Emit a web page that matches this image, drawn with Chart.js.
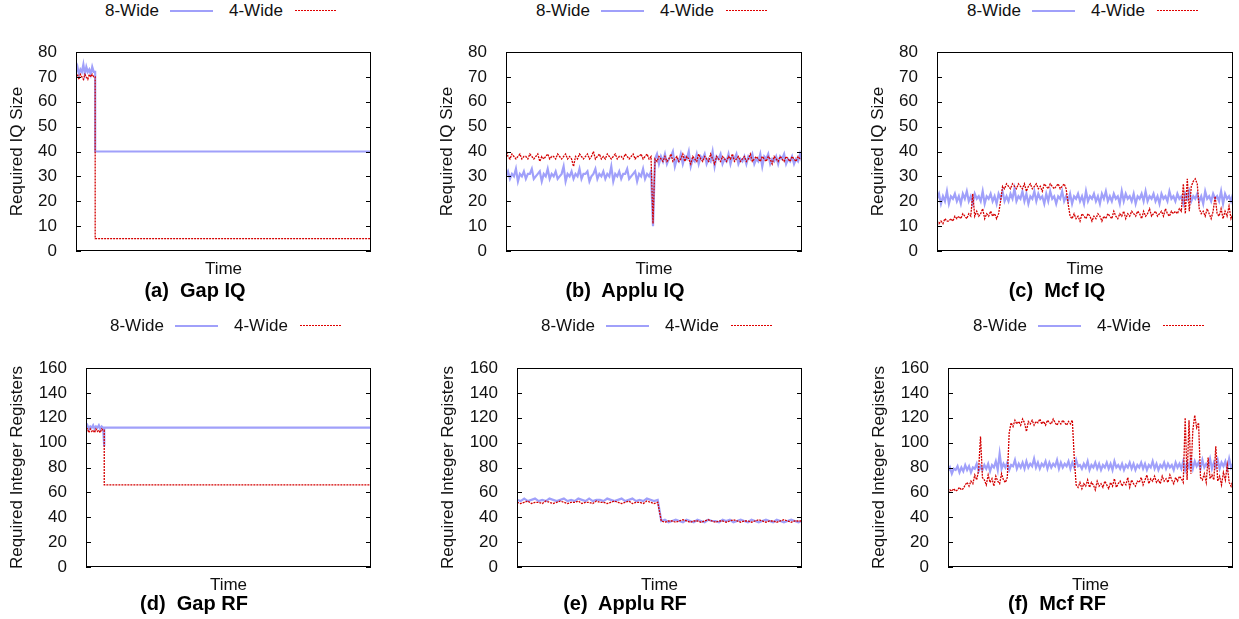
<!DOCTYPE html>
<html>
<head>
<meta charset="utf-8">
<title>Required IQ and RF size over time</title>
<script src="https://cdn.jsdelivr.net/npm/chart.js@4.4.1/dist/chart.umd.min.js"></script>
<style>
  body { margin: 0; background: #fff; width: 1239px; height: 619px; position: relative; overflow: hidden;
         font-family: 'Liberation Sans', Arial, Helvetica, sans-serif; color: #111; }
  canvas { position: absolute; }
  .legend { position: absolute; width: 240px; height: 20px; font-size: 17px; line-height: 20px; white-space: nowrap; }
  .legend span { position: absolute; top: 0; }
  .legend .wide8 { position: absolute; top: 9px; height: 2px; width: 43px; background: rgb(160,160,250); }
  .legend .wide4 { position: absolute; top: 9px; height: 1px; width: 42px;
                   background: repeating-linear-gradient(90deg, #e00000 0 2px, transparent 2px 3px); }
  .caption { position: absolute; width: 300px; text-align: center; font-weight: bold; font-size: 20px;
             line-height: 24px; white-space: pre; color: #000; }
</style>
</head>
<body>
<script>
/*------------------------------*/
/*            DATA              */
/*------------------------------*/
// (a) Gap IQ - time in % of run
var gapIqTime = [0, 0.5, 1, 1.5, 2, 2.5, 3, 3.5, 4, 4.5, 5, 5.5, 6, 6.5, 6.5, 100]
var gapIq8 = [72, 74, 71, 73, 72, 75, 71, 74, 72, 73, 71, 74, 72, 72, 40, 40]
var gapIq4 = [70, 71, 69, 71, 70, 69, 71, 70, 69, 71, 70, 71, 70, 70, 5, 5]

// (b) Applu IQ - evenly sampled
var appluIq8 = [
  30,32,29,31,30,33,28,31,30,32,
  29,31,31,33,29,30,31,32,28,31,
  30,33,29,31,30,32,29,30,31,34,
  28,31,30,32,29,31,30,33,29,31,
  31,32,28,30,31,33,29,31,30,32,
  29,31,30,34,28,31,30,32,29,31,
  31,33,29,30,31,32,28,31,30,33,
  29,31,30,32,10,37,39,35,38,36,
  39,35,37,38,40,34,37,36,39,35,
  38,37,40,34,37,36,39,35,38,37,
  39,35,37,36,40,34,38,37,39,35,
  37,36,39,35,38,37,39,35,37,36,
  38,35,38,37,39,35,37,36,39,34,
  38,37,39,35,37,36,38,35,38,37,
  39,35,37,36,38,35,37,36,39,36
]
var appluIq4 = [
  41,38,37,39,38,37,38,39,37,38,
  38,37,39,38,37,38,39,36,38,37,
  38,39,37,38,38,37,39,38,37,38,
  39,37,38,37,34,38,37,39,38,37,
  38,39,37,38,40,37,38,39,37,38,
  37,39,38,37,38,39,37,38,38,37,
  39,38,37,38,39,37,38,38,39,37,
  38,39,37,38,11,37,36,38,37,36,
  38,36,37,39,36,37,38,36,37,39,
  36,38,37,35,38,37,36,39,37,36,
  38,37,36,39,37,35,38,37,36,38,
  37,36,38,37,39,36,37,38,36,37,
  38,36,37,39,36,37,38,37,36,38,
  37,36,38,37,35,38,37,36,38,37,
  36,38,37,36,38,37,36,38,37,37
]

// (c) Mcf IQ
var mcfIq8 = [
  21,23,19,22,20,24,19,22,21,23,
  20,22,19,23,21,24,20,22,19,23,
  21,22,20,24,19,22,21,23,20,22,
  19,23,21,24,20,22,20,23,21,25,
  20,22,21,24,20,23,19,22,21,24,
  20,23,21,22,19,23,20,24,21,22,
  19,22,21,24,20,22,20,23,19,22,
  21,23,20,22,19,24,20,22,21,23,
  20,22,19,23,21,24,20,22,20,23,
  21,22,19,24,20,23,21,22,20,23,
  19,22,21,23,20,24,20,22,21,23,
  20,22,19,23,21,22,20,24,21,22,
  20,23,21,22,19,23,21,24,20,22,
  21,23,20,22,19,24,21,22,20,23,
  21,22,20,24,19,23,21,22,20,23
]
var mcfIq4 = [
  12,11,12,11,13,12,12,13,12,14,
  13,14,13,15,14,13,15,14,23,14,
  16,14,15,17,13,15,14,16,14,15,
  13,15,20,26,25,27,26,25,27,26,
  25,27,26,25,27,24,26,27,25,26,
  27,25,26,24,27,26,25,27,26,25,
  26,27,25,26,27,25,19,14,13,15,
  13,14,12,15,14,13,15,14,12,14,
  13,15,14,12,14,13,15,14,13,16,
  14,13,15,14,16,13,15,14,16,15,
  14,16,15,13,16,14,15,17,14,15,
  16,14,15,16,14,17,15,14,16,15,
  16,15,17,16,27,15,29,16,26,28,
  29,27,17,15,16,14,17,15,13,16,
  22,15,14,17,13,16,14,18,13,15
]

// (d) Gap RF
var gapRfTime = [0, 0.5, 1, 1.5, 2, 2.5, 3, 3.5, 4, 4.5, 5, 5.5, 6, 6.4, 6.4, 100]
var gapRf8 = [112, 114, 111, 113, 112, 114, 111, 113, 112, 114, 111, 113, 112, 97, 112, 112]
var gapRf4 = [110, 111, 108, 111, 109, 110, 108, 111, 109, 110, 108, 111, 110, 110, 66, 66]

// (e) Applu RF
var appluRf8 = [
  54,53,55,53,54,55,53,54,53,55,
  54,53,54,55,53,54,53,55,54,53,
  55,53,54,54,53,55,54,53,54,55,
  53,54,55,53,54,53,55,54,53,54,
  37,38,36,37,38,37,36,38,37,36,
  38,37,36,38,37,37,36,38,37,38,
  36,37,38,37,36,38,37,36,37,38,
  37,36,38,37,36,37,38,37,36,37
]
var appluRf4 = [
  52,51,52,53,51,52,52,51,53,52,
  51,52,53,52,51,52,52,53,51,52,
  52,51,53,52,52,51,52,53,52,51,
  52,53,51,52,52,51,53,52,51,52,
  37,36,37,37,36,37,38,37,36,37,
  37,36,37,38,37,36,37,37,36,37,
  38,37,36,37,37,36,37,38,37,36,
  37,37,36,37,38,37,36,37,37,37
]

// (f) Mcf RF
var mcfRf8 = [
  77,80,75,79,78,81,76,80,77,82,
  78,81,76,80,79,83,77,81,78,82,
  79,83,77,82,80,85,78,91,79,83,
  80,84,78,82,81,86,79,83,80,84,
  79,85,80,83,81,87,80,84,79,83,
  81,85,79,84,80,83,81,86,79,84,
  80,83,81,85,79,84,80,86,81,82,
  79,83,80,85,78,82,80,84,79,83,
  78,82,80,84,79,83,78,85,80,82,
  79,83,78,82,80,84,79,83,78,82,
  80,84,79,83,78,82,80,85,79,83,
  78,82,80,84,79,83,80,82,78,84,
  80,83,79,85,78,84,80,86,79,85,
  81,84,79,86,80,83,81,87,79,84,
  80,86,79,84,81,85,79,87,80,83
]
var mcfRf4 = [
  60,62,61,63,61,62,64,62,63,66,
  68,65,69,67,74,70,78,105,72,70,
  66,74,68,71,65,73,69,67,75,70,
  68,72,108,116,113,118,115,117,114,119,
  116,109,117,115,118,114,117,116,119,115,
  117,114,118,116,115,119,116,114,117,115,
  118,116,114,117,115,118,88,66,64,68,
  63,67,65,70,64,68,66,62,69,65,
  67,64,69,66,63,68,65,71,64,67,
  69,65,68,66,72,64,70,67,65,69,
  68,72,66,70,74,67,71,69,73,68,
  70,67,73,69,71,68,74,70,67,72,
  69,73,71,68,120,70,118,75,110,122,
  112,116,72,70,75,68,88,71,74,70,
  97,69,73,66,76,70,82,68,65,70
]

var seriesLabels = ['8-Wide', '4-Wide']
var iqTicks = { max: 80, step: 10 }
var rfTicks = { max: 160, step: 20 }

/*------------------------------*/
/*           HELPERS            */
/*------------------------------*/
// evenly sampled series -> points on a 0..100 time axis
function sampled(values) {
  return values.map(function (v, i) { return { x: i * 100 / (values.length - 1), y: v } })
}
function timed(times, values) {
  return values.map(function (v, i) { return { x: times[i], y: v } })
}

var BLUE = 'rgb(160,160,250)'
var RED = '#d40000'
var FONT = { family: "'Liberation Sans', Arial, Helvetica, sans-serif", size: 17, lineHeight: '20px' }
// chart.js keeps half a label + tick padding above the plot: 10 + 11
var TOP_GAP = 21

// border box + inward ticks on both sides, gnuplot style
var framePlugin = {
  id: 'frame',
  afterDatasetsDraw: function (chart) {
    var ctx = chart.ctx, a = chart.chartArea, y = chart.scales.y
    ctx.save()
    ctx.strokeStyle = '#000'
    ctx.lineWidth = 1
    ctx.beginPath()
    y.ticks.forEach(function (t) {
      var py = Math.round(y.getPixelForValue(t.value)) + 0.5
      ctx.moveTo(a.left, py); ctx.lineTo(a.left + 5, py)
      ctx.moveTo(a.right - 5, py); ctx.lineTo(a.right, py)
    })
    ctx.stroke()
    ctx.strokeRect(Math.round(a.left) + 0.5, Math.round(a.top) + 0.5,
                   Math.round(a.right - a.left) - 1, Math.round(a.bottom - a.top) - 1)
    ctx.restore()
  }
}

function addLegend(left, top) {
  var d = document.createElement('div')
  d.className = 'legend'
  d.style.left = (left - 1) + 'px'
  d.style.top = top + 'px'
  d.innerHTML = '<span style="left:0">' + seriesLabels[0] + '</span>' +
    '<div class="wide8" style="left:65px"></div>' +
    '<span style="left:124px">' + seriesLabels[1] + '</span>' +
    '<div class="wide4" style="left:190px"></div>'
  document.body.appendChild(d)
}

function addCaption(text, centerX, top) {
  var d = document.createElement('div')
  d.className = 'caption'
  d.style.left = (centerX - 150) + 'px'
  d.style.top = top + 'px'
  d.textContent = text
  document.body.appendChild(d)
}

function makePanel(p) {
  // p.box = plot area [left, top, right, bottom] in page pixels
  var yw = p.yWidth
  var left = p.box[0] - yw, top = p.box[1] - TOP_GAP
  var w = yw + (p.box[2] - p.box[0]) + 6
  var h = TOP_GAP + (p.box[3] - p.box[1]) + 30
  var canvas = document.createElement('canvas')
  canvas.width = w; canvas.height = h
  canvas.style.left = left + 'px'; canvas.style.top = top + 'px'
  canvas.style.width = w + 'px'; canvas.style.height = h + 'px'
  document.body.appendChild(canvas)

  new Chart(canvas.getContext('2d'), {
    type: 'line',
    data: {
      datasets: [{
        label: seriesLabels[0],
        data: p.wide8,
        borderColor: BLUE,
        borderWidth: 2.2,
        pointRadius: 0,
        tension: 0,
        order: 2
      }, {
        label: seriesLabels[1],
        data: p.wide4,
        borderColor: RED,
        borderWidth: 1.3,
        borderDash: [2, 1],
        pointRadius: 0,
        tension: 0,
        order: 1
      }]
    },
    options: {
      responsive: false,
      animation: false,
      events: [],
      layout: { padding: { top: 0, right: 6, left: 0, bottom: 0 } },
      plugins: { legend: { display: false }, tooltip: { enabled: false } },
      scales: {
        x: {
          type: 'linear', min: 0, max: 100,
          ticks: { display: false },
          grid: { display: false },
          border: { display: false },
          title: { display: true, text: 'Time', font: FONT, color: '#111', padding: { top: 0, bottom: 2 } },
          afterFit: function (s) { s.height = 30 }
        },
        y: {
          min: 0, max: p.ticks.max,
          ticks: { stepSize: p.ticks.step, padding: 11, font: FONT, color: '#111' },
          grid: { display: false },
          border: { display: false },
          title: { display: true, text: p.yTitle, font: FONT, color: '#111', padding: { top: 1, bottom: 0 } },
          afterFit: function (s) { s.width = yw }
        }
      }
    },
    plugins: [framePlugin]
  })

  addLegend(p.legendX, p.legendY)
  addCaption(p.caption, p.captionX, p.captionY)
}

/*------------------------------*/
/*           PANELS             */
/*------------------------------*/
makePanel({ box: [76, 52, 371, 251], yWidth: 70, ticks: iqTicks, yTitle: 'Required IQ Size',
  wide8: timed(gapIqTime, gapIq8), wide4: timed(gapIqTime, gapIq4),
  legendX: 106, legendY: 1, caption: '(a)  Gap IQ', captionX: 195, captionY: 278 })

makePanel({ box: [506, 52, 802, 251], yWidth: 70, ticks: iqTicks, yTitle: 'Required IQ Size',
  wide8: sampled(appluIq8), wide4: sampled(appluIq4),
  legendX: 537, legendY: 1, caption: '(b)  Applu IQ', captionX: 625, captionY: 278 })

makePanel({ box: [937, 52, 1233, 251], yWidth: 70, ticks: iqTicks, yTitle: 'Required IQ Size',
  wide8: sampled(mcfIq8), wide4: sampled(mcfIq4),
  legendX: 968, legendY: 1, caption: '(c)  Mcf IQ', captionX: 1057, captionY: 278 })

makePanel({ box: [86, 368, 371, 567], yWidth: 80, ticks: rfTicks, yTitle: 'Required Integer Registers',
  wide8: timed(gapRfTime, gapRf8), wide4: timed(gapRfTime, gapRf4),
  legendX: 111, legendY: 316, caption: '(d)  Gap RF', captionX: 194, captionY: 591 })

makePanel({ box: [517, 368, 802, 567], yWidth: 80, ticks: rfTicks, yTitle: 'Required Integer Registers',
  wide8: sampled(appluRf8), wide4: sampled(appluRf4),
  legendX: 542, legendY: 316, caption: '(e)  Applu RF', captionX: 625, captionY: 591 })

makePanel({ box: [948, 368, 1233, 567], yWidth: 80, ticks: rfTicks, yTitle: 'Required Integer Registers',
  wide8: sampled(mcfRf8), wide4: sampled(mcfRf4),
  legendX: 974, legendY: 316, caption: '(f)  Mcf RF', captionX: 1057, captionY: 591 })
</script>
</body>
</html>
